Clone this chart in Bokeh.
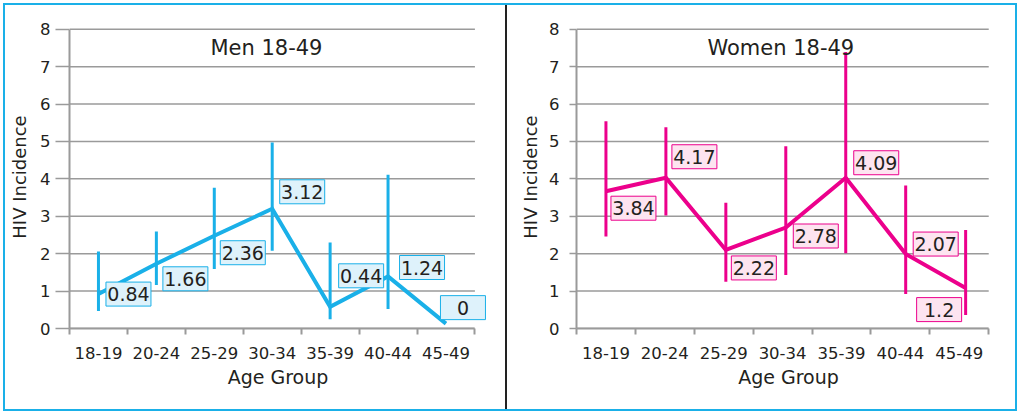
from bokeh.plotting import figure
from bokeh.models import Range1d, FixedTicker, CustomJSTickFormatter
from bokeh.layouts import row
from bokeh.embed import file_html
from bokeh.resources import INLINE
from bokeh.core.properties import value

# ---------------- data ----------------
age_groups = ["18-19", "20-24", "25-29", "30-34", "35-39", "40-44", "45-49"]
y_ticks = [0, 1, 2, 3, 4, 5, 6, 7, 8]

men_labels = [0.84, 1.66, 2.36, 3.12, 0.44, 1.24, 0]
men_points = [0.92, 1.73, 2.48, 3.20, 0.58, 1.39, 0.13]
men_lo = [0.47, 1.16, 1.59, 2.08, 0.25, 0.52, None]
men_hi = [2.06, 2.59, 3.76, 4.97, 2.30, 4.11, None]

women_labels = [3.84, 4.17, 2.22, 2.78, 4.09, 2.07, 1.2]
women_points = [3.67, 4.03, 2.10, 2.70, 4.03, 1.99, 1.08]
women_lo = [2.46, 3.02, 1.25, 1.43, 2.01, 0.92, 0.36]
women_hi = [5.54, 5.38, 3.36, 4.87, 7.39, 3.82, 2.63]

# ---------------- style ----------------
FONT = "DejaVu Sans"
GRID = "#9a9a9a"
TXT = "#231f20"
MEN_COLOR, MEN_FILL = "#1ab0e8", "#def2fb"
WOMEN_COLOR, WOMEN_FILL = "#ec008c", "#fde4f0"
# label box offsets from point, in pixels (dx right, dy down)
men_off = [(30, 0), (29, 15), (28.5, 17), (30, -17), (31, -31), (34, -9), (17, -16)]
women_off = [(27.5, 17), (28.5, -21), (28, 18), (30, 8.5), (30.5, -15), (30, -10), (-26.5, 21.5)]

H = 404
MB_TOP, MB_BOTTOM = 20, 81
X_END, Y_END = 7.2, 8.1


def panel(title, title_x, labels, points, lo, hi, color, fill, offs, width,
          mb_left, mb_right, tick_out, tick_standoff, label_standoff, drift):
    p = figure(width=width, height=H, x_range=Range1d(0, X_END), y_range=Range1d(0, Y_END),
               output_backend="svg", toolbar_location=None,
               min_border_left=mb_left, min_border_right=mb_right,
               min_border_top=MB_TOP, min_border_bottom=MB_BOTTOM)
    p.outline_line_color = None
    p.xgrid.visible = False
    p.ygrid.visible = False
    p.background_fill_color = "white"
    p.border_fill_color = "white"

    pxx = (width - mb_left - mb_right) / X_END
    pxy = (H - MB_TOP - MB_BOTTOM) / Y_END

    # horizontal grid lines
    p.segment(x0=[0] * len(y_ticks), y0=y_ticks, x1=[7] * len(y_ticks), y1=y_ticks,
              line_color=GRID, line_width=1.5)

    n = len(age_groups)
    xs = [i + 0.5 + drift * i for i in range(n)]

    # error bars
    ex = [x for x, a in zip(xs, lo) if a is not None]
    elo = [a for a in lo if a is not None]
    ehi = [b for b in hi if b is not None]
    p.segment(x0=ex, y0=elo, x1=ex, y1=ehi, line_color=color, line_width=3)

    # main line
    p.line(xs, points, line_color=color, line_width=4, line_join="miter")

    # label boxes
    bx = [x + dx / pxx for x, (dx, dy) in zip(xs, offs)]
    by = [y - dy / pxy for y, (dx, dy) in zip(points, offs)]
    p.rect(x=bx, y=by, width=45, height=24, width_units="screen", height_units="screen",
           fill_color=fill, line_color=color, line_width=1)
    p.text(x=bx, y=by, text=[f"{v:g}" for v in labels], text_font=value(FONT),
           text_font_size="19px", text_align="center", text_baseline="middle",
           text_color=TXT)

    # title inside the plot
    p.text(x=[title_x], y=[7.5], text=[title], text_font=value(FONT), text_font_size="21px",
           text_align="center", text_baseline="middle", text_color=TXT)

    # x axis
    xa = p.xaxis[0]
    xa.ticker = FixedTicker(ticks=[i + 0.5 for i in range(n)], minor_ticks=list(range(n + 1)))
    xa.formatter = CustomJSTickFormatter(args=dict(labels=age_groups),
                                         code="return labels[Math.floor(tick)] || ''")
    xa.bounds = (0, 7)
    xa.major_tick_line_color = None
    xa.major_tick_out = 0
    xa.major_tick_in = 0
    xa.minor_tick_line_color = GRID
    xa.minor_tick_line_width = 2
    xa.minor_tick_out = 6
    xa.minor_tick_in = 0
    xa.axis_line_color = GRID
    xa.axis_line_width = 2
    xa.major_label_standoff = 12
    xa.major_label_text_font = FONT
    xa.major_label_text_font_size = "16.5px"
    xa.major_label_text_color = TXT
    xa.axis_label = "Age Group"
    xa.axis_label_text_font = FONT
    xa.axis_label_text_font_size = "19px"
    xa.axis_label_text_font_style = "normal"
    xa.axis_label_text_color = TXT
    xa.axis_label_standoff = 4

    # y axis
    ya = p.yaxis[0]
    ya.ticker = FixedTicker(ticks=y_ticks, minor_ticks=[])
    ya.bounds = (0, 8)
    ya.major_tick_line_color = GRID
    ya.major_tick_line_width = 1.5
    ya.major_tick_out = tick_out
    ya.major_tick_in = 0
    ya.minor_tick_line_color = None
    ya.axis_line_color = GRID
    ya.axis_line_width = 2
    ya.major_label_standoff = tick_standoff
    ya.major_label_text_font = FONT
    ya.major_label_text_font_size = "16.5px"
    ya.major_label_text_color = TXT
    ya.axis_label = "HIV Incidence"
    ya.axis_label_text_font = FONT
    ya.axis_label_text_font_size = "18px"
    ya.axis_label_text_font_style = "normal"
    ya.axis_label_text_color = TXT
    ya.axis_label_standoff = label_standoff
    return p


p1 = panel("Men 18-49", 3.4, men_labels, men_points, men_lo, men_hi, MEN_COLOR, MEN_FILL,
           men_off, 500, 64, 19, 14, 5, 7, 0.0)
p2 = panel("Women 18-49", 3.47, women_labels, women_points, women_lo, women_hi, WOMEN_COLOR,
           WOMEN_FILL, women_off, 510, 69, 17, 7, 10, 5, 0.018)
p2.styles = {"border-left": "2px solid #222222"}

layout = row(p1, p2, styles={"border": "2px solid #1ab0e8", "margin-left": "3px",
                             "margin-top": "3px", "background-color": "white"})

open("out.html", "w").write(file_html(layout, INLINE))
